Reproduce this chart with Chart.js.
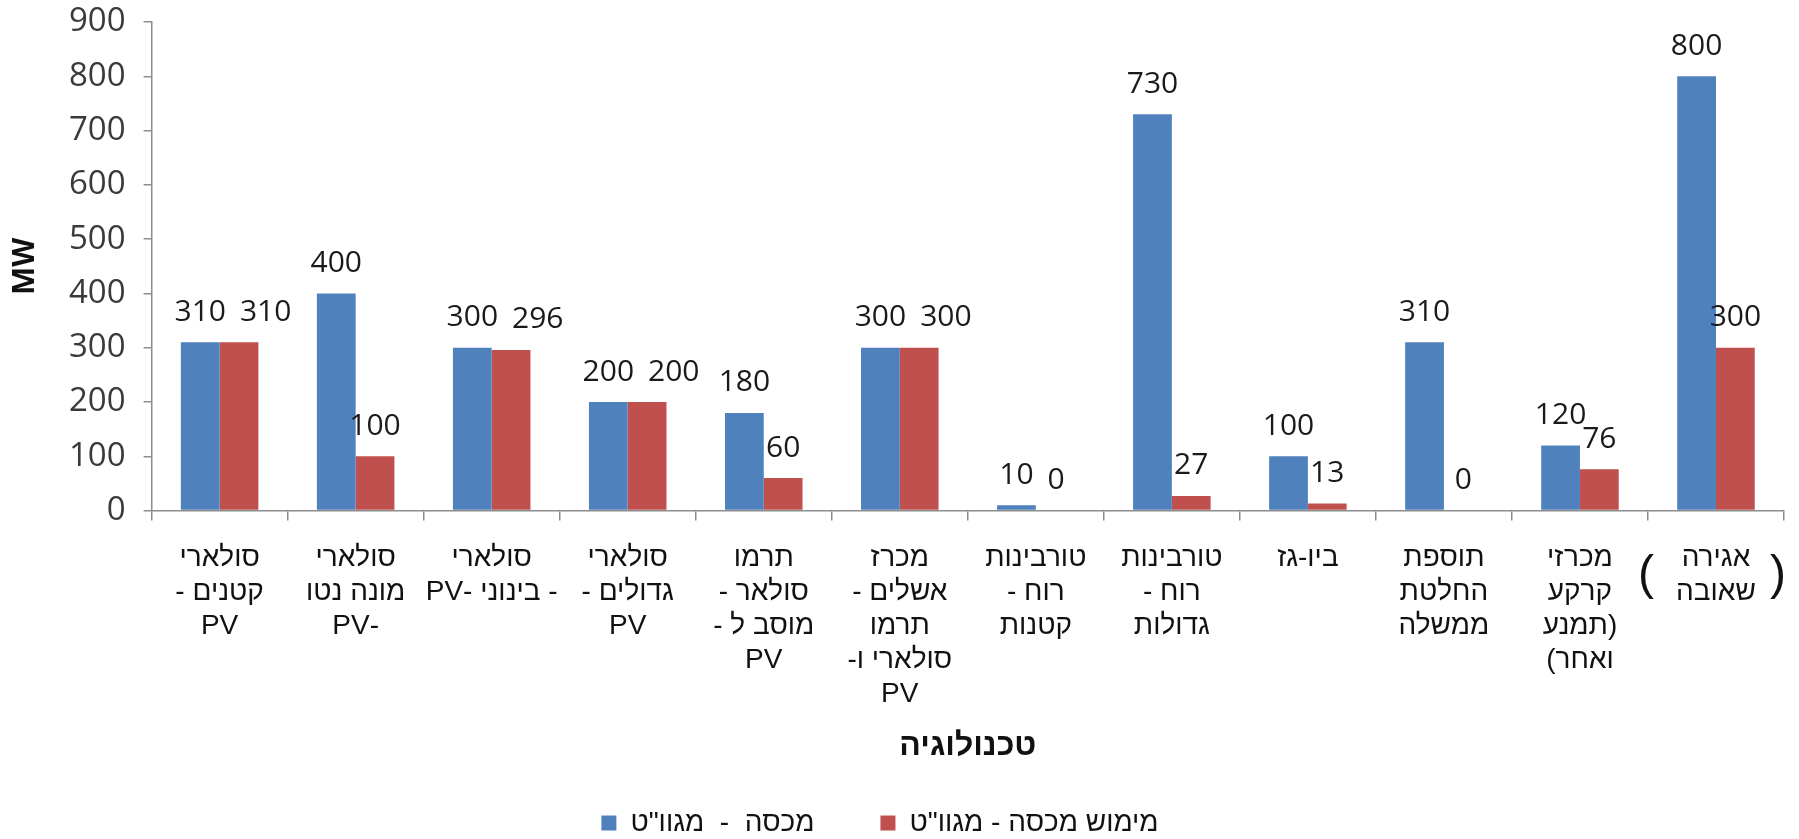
<!DOCTYPE html>
<html lang="he">
<head>
<meta charset="utf-8">
<title>מכסות ומימוש לפי טכנולוגיה</title>
<script src="https://cdn.jsdelivr.net/npm/chart.js@4.4.1/dist/chart.umd.min.js"></script>
<style>
  html, body { margin: 0; padding: 0; background: #ffffff; }
  canvas { direction: rtl; }
</style>
</head>
<body>
<canvas id="quotaChart" dir="rtl" width="1799" height="839"></canvas>
<script>
const categories = [
  ["סולארי", "קטנים -", "PV"],
  ["סולארי", "מונה נטו", "-PV"],
  ["סולארי", "- בינוני -PV"],
  ["סולארי", "גדולים -", "PV"],
  ["תרמו", "סולאר -", "מוסב ל -", "PV"],
  ["מכרז", "אשלים -", "תרמו", "סולארי ו-", "PV"],
  ["טורבינות", "רוח -", "קטנות"],
  ["טורבינות", "רוח -", "גדולות"],
  ["ביו-גז"],
  ["תוספת", "החלטת", "ממשלה"],
  ["מכרזי", "קרקע", "(תמנע", "ואחר)"],
  ["אגירה", "שאובה"],
];
const quota = [310, 400, 300, 200, 180, 300, 10, 730, 100, 310, 120, 800];
const realized = [310, 100, 296, 200, 60, 300, 0, 27, 13, 0, 76, 300];

const quotaLabel = 'מכסה  -  מגוו"ט';
const realizedLabel = 'מימוש מכסה - מגוו"ט';
const xTitle = "טכנולוגיה";
const yTitle = "MW";
const yMax = 900;
const yStep = 100;

const NUM_FONT = '"Open Sans", "DejaVu Sans", sans-serif';
const HEB_FONT = '"Liberation Sans", Arial, "DejaVu Sans", sans-serif';
const AXIS_GREY = "#8c8c8c";
const INK = "#111111";

// value above every bar; a label that would collide with its neighbour gets nudged right
const valueLabels = {
  id: "valueLabels",
  afterDatasetsDraw(chart) {
    const ctx = chart.ctx;
    ctx.save();
    ctx.direction = "ltr";
    ctx.font = "30px " + NUM_FONT;
    ctx.fillStyle = "#1a1a1a";
    ctx.textAlign = "center";
    ctx.textBaseline = "middle";
    const first = chart.getDatasetMeta(0).data;
    const second = chart.getDatasetMeta(1).data;
    for (let i = 0; i < first.length; i++) {
      const a = String(chart.data.datasets[0].data[i]);
      const b = String(chart.data.datasets[1].data[i]);
      const ay = first[i].y - 30;
      const by = second[i].y - 30;
      const ax = first[i].x;
      let bx = second[i].x;
      const aRight = ax + ctx.measureText(a).width / 2;
      const bHalf = ctx.measureText(b).width / 2;
      if (Math.abs(ay - by) < 22 && bx - bHalf < aRight + 14) {
        bx = aRight + 14 + bHalf;
      }
      ctx.fillText(a, ax, ay);
      ctx.fillText(b, bx, by);
    }
    ctx.restore();
  },
};

// tall brackets wrapped around the two-line storage label
const storageBrackets = {
  id: "storageBrackets",
  afterDraw(chart) {
    const x = chart.scales.x;
    const cx = x.getPixelForValue(categories.length - 1);
    const cy = x.top + 10 + 21 + 34;
    const ctx = chart.ctx;
    ctx.save();
    ctx.direction = "ltr";
    ctx.font = "48px " + HEB_FONT;
    ctx.fillStyle = INK;
    ctx.textAlign = "center";
    ctx.textBaseline = "middle";
    ctx.fillText("(", cx - 70, cy);
    ctx.fillText(")", cx + 62, cy);
    ctx.restore();
  },
};

const ctx = document.getElementById("quotaChart").getContext("2d");
new Chart(ctx, {
  type: "bar",
  data: {
    labels: categories,
    datasets: [
      {
        label: quotaLabel,
        data: quota,
        backgroundColor: "#4F81BD",
        categoryPercentage: 0.57,
        barPercentage: 1.0,
      },
      {
        label: realizedLabel,
        data: realized,
        backgroundColor: "#C0504D",
        categoryPercentage: 0.57,
        barPercentage: 1.0,
      },
    ],
  },
  options: {
    responsive: false,
    animation: false,
    layout: {
      padding: { left: 4, right: 15, top: 22, bottom: -8 },
    },
    plugins: {
      tooltip: { enabled: false },
      legend: {
        position: "bottom",
        labels: {
          font: { size: 28, family: HEB_FONT },
          color: INK,
          boxWidth: 15,
          boxHeight: 15,
          padding: 10,
          generateLabels(chart) {
            const items = Chart.defaults.plugins.legend.labels.generateLabels(chart);
            items[0].text = "\u2003\u2003" + items[0].text;
            items[1].text = "\u2003" + items[1].text;
            return items;
          },
        },
      },
    },
    scales: {
      x: {
        grid: {
          offset: true,
          drawOnChartArea: false,
          drawTicks: true,
          tickLength: 10,
          color: AXIS_GREY,
          lineWidth: 1.5,
        },
        border: { color: AXIS_GREY, width: 1.5 },
        ticks: {
          autoSkip: false,
          maxRotation: 0,
          minRotation: 0,
          padding: 21,
          color: INK,
          font: { size: 28, family: HEB_FONT, lineHeight: 34 / 28 },
        },
        title: {
          display: true,
          text: xTitle,
          color: INK,
          font: { size: 32, weight: "bold", family: HEB_FONT },
          padding: { top: -6, bottom: 34 },
        },
      },
      y: {
        min: 0,
        max: yMax,
        grid: {
          drawOnChartArea: false,
          drawTicks: true,
          tickLength: 8,
          color: AXIS_GREY,
          lineWidth: 1.5,
        },
        border: { color: AXIS_GREY, width: 1.5 },
        ticks: {
          stepSize: yStep,
          padding: 18,
          color: "#3a3a3a",
          font: { size: 33, family: NUM_FONT, lineHeight: 0.2 },
        },
        title: {
          display: true,
          text: yTitle,
          color: INK,
          font: { size: 30, weight: "bold", family: NUM_FONT },
          padding: { top: 3, bottom: 8 },
        },
      },
    },
  },
  plugins: [valueLabels, storageBrackets],
});
</script>
</body>
</html>
